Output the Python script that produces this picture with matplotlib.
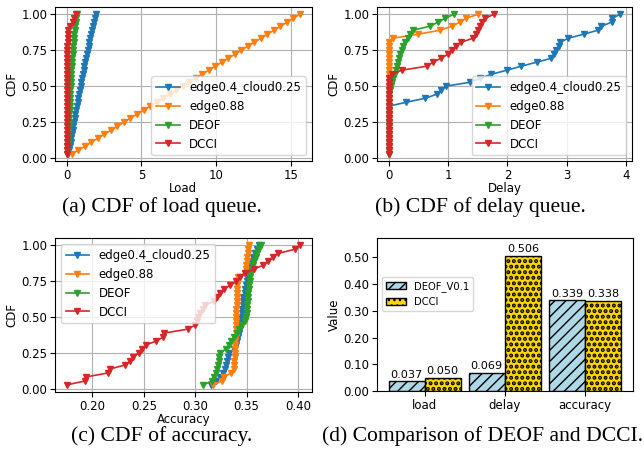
import numpy as np
import matplotlib
matplotlib.use("Agg")
import matplotlib.pyplot as plt

# --- data ---
SERIES = ["edge0.4_cloud0.25", "edge0.88", "DEOF", "DCCI"]

load_edge_cloud = [0.12, 0.17, 0.22, 0.27, 0.31, 0.35, 0.40, 0.44, 0.49, 0.54, 0.59, 0.64,
                   0.68, 0.73, 0.78, 0.83, 0.89, 0.94, 0.99, 1.04, 1.09, 1.14, 1.19, 1.25,
                   1.30, 1.35, 1.42, 1.47, 1.52, 1.58, 1.64, 1.70, 1.76, 1.82, 1.89, 1.96]
load_edge = [0.34, 0.78, 1.21, 1.65, 2.08, 2.52, 2.96, 3.39, 3.83, 4.26, 4.70, 5.14,
             5.57, 6.01, 6.44, 6.88, 7.32, 7.75, 8.19, 8.62, 9.06, 9.50, 9.93, 10.37,
             10.80, 11.24, 11.68, 12.11, 12.55, 12.98, 13.42, 13.86, 14.29, 14.73, 15.16, 15.60]
load_deof = [0.03, 0.04, 0.05, 0.07, 0.08, 0.10, 0.11, 0.13, 0.15, 0.16, 0.18, 0.19,
             0.20, 0.21, 0.23, 0.24, 0.25, 0.27, 0.28, 0.29, 0.31, 0.32, 0.34, 0.36,
             0.38, 0.40, 0.42, 0.44, 0.46, 0.48, 0.51, 0.54, 0.57, 0.60, 0.64, 0.68]
load_dcci = [0.00, 0.00, 0.00, 0.00, 0.01, 0.01, 0.01, 0.01, 0.01, 0.02, 0.02, 0.02,
             0.02, 0.02, 0.02, 0.03, 0.03, 0.03, 0.03, 0.03, 0.04, 0.04, 0.04, 0.04,
             0.04, 0.05, 0.05, 0.05, 0.06, 0.06, 0.07, 0.08, 0.25, 0.40, 0.50, 0.62]

delay_edge_cloud = [0, 0, 0, 0, 0, 0, 0, 0, 0, 0, 0, 0, 0,
                    0.30, 0.62, 0.81, 0.88, 0.96, 1.37, 1.54, 1.73, 1.99, 2.23, 2.49,
                    2.74, 2.79, 2.82, 2.86, 2.89, 3.02, 3.28, 3.52, 3.58, 3.75, 3.76, 3.90]
delay_edge = [0] * 29 + [0.07, 0.49, 0.87, 1.06, 1.20, 1.30, 1.51]
delay_deof = [0] * 16 + [0.02, 0.04, 0.06, 0.08, 0.10, 0.12, 0.14, 0.16, 0.18, 0.20,
                         0.22, 0.25, 0.28, 0.32, 0.36, 0.41, 0.69, 0.83, 0.95, 1.10]
delay_dcci = [0] * 20 + [0.05, 0.22, 0.64, 0.75, 0.88, 1.00, 1.06, 1.13, 1.22, 1.42,
                         1.47, 1.50, 1.53, 1.57, 1.62, 1.78]

acc_edge_cloud = [0.315, 0.320, 0.324, 0.327, 0.329, 0.330, 0.331, 0.332, 0.333, 0.338,
                  0.340, 0.341, 0.342, 0.343, 0.344, 0.344, 0.345, 0.345, 0.346, 0.346,
                  0.347, 0.347, 0.347, 0.348, 0.348, 0.349, 0.350, 0.350, 0.351, 0.352,
                  0.353, 0.354, 0.356, 0.358, 0.360, 0.362]
acc_edge = [0.317, 0.326, 0.328, 0.335, 0.338, 0.338, 0.338, 0.339, 0.339, 0.339,
            0.339, 0.339, 0.340, 0.340, 0.340, 0.340, 0.340, 0.340, 0.340, 0.340,
            0.341, 0.341, 0.341, 0.341, 0.341, 0.341, 0.341, 0.342, 0.348, 0.349,
            0.349, 0.350, 0.350, 0.351, 0.351, 0.352]
acc_deof = [0.308, 0.316, 0.318, 0.320, 0.321, 0.322, 0.323, 0.323, 0.324, 0.330,
            0.333, 0.335, 0.338, 0.341, 0.343, 0.346, 0.348, 0.349, 0.350, 0.350,
            0.350, 0.351, 0.351, 0.351, 0.352, 0.352, 0.353, 0.353, 0.354, 0.355,
            0.356, 0.357, 0.359, 0.360, 0.362, 0.364]
acc_dcci = [0.175, 0.193, 0.194, 0.215, 0.217, 0.232, 0.237, 0.240, 0.245, 0.248,
            0.252, 0.262, 0.269, 0.270, 0.293, 0.300, 0.302, 0.303, 0.305, 0.308,
            0.310, 0.318, 0.321, 0.324, 0.328, 0.334, 0.340, 0.344, 0.348, 0.357,
            0.366, 0.371, 0.376, 0.381, 0.397, 0.402]

metrics = ["load", "delay", "accuracy"]
deof_v01 = [0.037, 0.069, 0.339]
dcci = [0.050, 0.506, 0.338]

FS = 8.5


def cdf_plot(ax, cols, xlabel, legend_loc):
    for vals, name in zip(cols, SERIES):
        x = np.sort(np.asarray(vals, dtype=float))
        y = np.arange(1, len(x) + 1) / len(x)
        ax.plot(x, y, marker="v", ms=4.6, lw=1.2, label=name)
    ax.grid(True)
    ax.set_xlabel(xlabel, fontsize=FS, labelpad=0)
    ax.set_ylabel("CDF", fontsize=FS, labelpad=2)
    ax.tick_params(labelsize=FS, pad=2)
    ax.set_yticks([0, 0.25, 0.5, 0.75, 1.0])
    ax.yaxis.set_major_formatter(matplotlib.ticker.FormatStrFormatter("%.2f"))
    ax.legend(loc=legend_loc, fontsize=FS)


def main():
    plt.rcParams["hatch.linewidth"] = 1.0
    fig = plt.figure(figsize=(6.44, 4.58), dpi=100)
    ax_a = fig.add_axes([0.0854, 0.648, 0.3986, 0.3362])
    ax_b = fig.add_axes([0.5854, 0.648, 0.396, 0.3362])
    ax_c = fig.add_axes([0.0854, 0.1443, 0.3986, 0.3354])
    ax_d = fig.add_axes([0.5854, 0.1457, 0.397, 0.3347])

    cdf_plot(ax_a, [load_edge_cloud, load_edge, load_deof, load_dcci], "Load", "lower right")
    ax_a.set_xticks([0, 5, 10, 15])
    cdf_plot(ax_b, [delay_edge_cloud, delay_edge, delay_deof, delay_dcci], "Delay", "lower right")
    ax_b.set_xticks([0, 1, 2, 3, 4])
    cdf_plot(ax_c, [acc_edge_cloud, acc_edge, acc_deof, acc_dcci], "Accuracy", "upper left")
    ax_c.xaxis.set_major_formatter(matplotlib.ticker.FormatStrFormatter("%.2f"))

    # (d) bar comparison
    x = np.arange(len(metrics))
    w = 0.45
    b1 = ax_d.bar(x - w / 2, deof_v01, w, color="lightblue", edgecolor="black",
                  hatch="///", label="DEOF_V0.1")
    with plt.rc_context({"hatch.linewidth": 2.0}):
        b2 = ax_d.bar(x + w / 2, dcci, w, color="gold", edgecolor="black",
                      hatch="...", label="DCCI")
    ax_d.bar_label(b1, fmt="%.3f", fontsize=FS - 0.4, padding=1)
    ax_d.bar_label(b2, fmt="%.3f", fontsize=FS - 0.4, padding=1)
    ax_d.set_xticks(x)
    ax_d.set_xticklabels(metrics)
    ax_d.set_ylim(0, 0.572)
    ax_d.set_yticks([0, 0.1, 0.2, 0.3, 0.4, 0.5])
    ax_d.yaxis.set_major_formatter(matplotlib.ticker.FormatStrFormatter("%.2f"))
    ax_d.set_ylabel("Value", fontsize=FS, labelpad=2)
    ax_d.tick_params(labelsize=FS, pad=2)
    ax_d.legend(loc="upper left", bbox_to_anchor=(0.0, 0.78), fontsize=7.2)

    cap = dict(fontsize=15.6, family=["Liberation Serif", "DejaVu Serif"], ha="center", va="center")
    fig.text(162 / 644, 1 - 207 / 458, "(a) CDF of load queue.", **cap)
    fig.text(480 / 644, 1 - 207 / 458, "(b) CDF of delay queue.", **cap)
    fig.text(162 / 644, 1 - 436 / 458, "(c) CDF of accuracy.", **cap)
    fig.text(482 / 644, 1 - 436 / 458, "(d) Comparison of DEOF and DCCI.", **cap)

    fig.savefig("out.png", dpi=100)


if __name__ == "__main__":
    main()
